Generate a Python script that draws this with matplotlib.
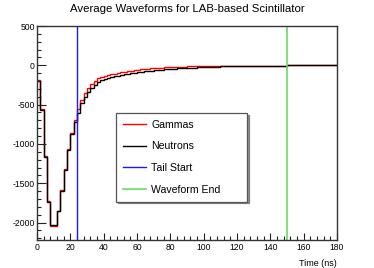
import numpy as np
import matplotlib
matplotlib.use("Agg")
import matplotlib.pyplot as plt
from matplotlib.ticker import MultipleLocator
from matplotlib.lines import Line2D

# ---- data ----
bin_width_ns = 2
time_max_ns = 180
tail_start_ns = 24
waveform_end_ns = 150

neutrons = [
    -196, -569, -1170, -1745, -2035, -2035, -1850, -1595, -1332, -1078,
    -880, -725, -611, -484, -399, -335, -285, -245, -215, -192,
    -175, -162, -150, -140, -130, -121, -113, -106, -100, -94,
    -88, -82, -77, -72, -67, -63, -59, -55, -51, -48,
    -45, -42, -39, -36, -34, -32, -30, -28, -26, -24,
    -22, -20, -18, -17, -16, -15, -14, -14, -13, -13,
    -13, -12, -12, -12, -12, -12, -12, -12, -12, -11,
    -11, -11, -11, -11, -11,
    0, 0, 0, 0, 0, 0, 0, 0, 0, 0, 0, 0, 0, 0, 0,
]
gammas = [
    -190, -560, -1155, -1730, -2040, -2040, -1850, -1590, -1325, -1070,
    -865, -690, -552, -441, -356, -293, -240, -195, -165, -145,
    -130, -120, -112, -105, -98, -91, -84, -77, -70, -64,
    -58, -53, -48, -44, -40, -36, -33, -30, -27, -25,
    -23, -21, -19, -17, -16, -15, -14, -13, -12, -12,
    -12, -12, -12, -12, -12, -12, -12, -12, -12, -12,
    -12, -12, -12, -11, -11, -11, -11, -11, -11, -11,
    -11, -11, -11, -11, -11,
    0, 0, 0, 0, 0, 0, 0, 0, 0, 0, 0, 0, 0, 0, 0,
]
edges = np.arange(0, time_max_ns + bin_width_ns, bin_width_ns)

title = "Average Waveforms for LAB-based Scintillator"
labels = ["Gammas", "Neutrons", "Tail Start", "Waveform End"]

# ---- figure ----
plt.rcParams['font.family'] = ['Liberation Sans', 'DejaVu Sans']
plt.rcParams['axes.unicode_minus'] = False
W, H = 374, 268
fig = plt.figure(figsize=(W / 100, H / 100), dpi=100)
ax = fig.add_axes([37 / W, 28 / H, 300 / W, 214 / H])

ax.stairs(gammas, edges, baseline=None, color='#ff0000', lw=1.0)
ax.stairs(neutrons, edges, baseline=None, color='black', lw=1.0)
ax.axvline(tail_start_ns, color='#1a1aff', lw=1.0)
ax.axvline(waveform_end_ns, color='#66dd66', lw=1.2)

ax.set_xlim(0, time_max_ns)
ax.set_ylim(-2222, 500)

ax.xaxis.set_major_locator(MultipleLocator(20))
ax.xaxis.set_minor_locator(MultipleLocator(4))
ax.yaxis.set_major_locator(MultipleLocator(500))
ax.yaxis.set_minor_locator(MultipleLocator(100))
ax.tick_params(which='both', direction='in', top=False, right=False,
               width=0.8, color='#222222', labelsize=6.2)
ax.tick_params(axis='x', which='major', length=4.8, pad=2.2)
ax.tick_params(axis='x', which='minor', length=2.6)
ax.tick_params(axis='y', which='major', length=6.4, pad=1.5)
ax.tick_params(axis='y', which='minor', length=3.2)
for s in ax.spines.values():
    s.set_color('#333333')
    s.set_linewidth(1.0)

ax.set_xlabel("Time (ns)", fontsize=6.5, ha='right', va='center')
ax.xaxis.set_label_coords(1.0, -(263 - 240) / 214)

fig.text(0.5, 1 - 9 / H, title, ha='center', va='center', fontsize=8.2)

handles = [Line2D([], [], color='#ff0000', lw=1.0),
           Line2D([], [], color='black', lw=1.0),
           Line2D([], [], color='#1a1aff', lw=1.0),
           Line2D([], [], color='#66dd66', lw=1.2)]
x0 = (116 - 37) / 300
x1 = (247 - 37) / 300
y1 = (240 - 113) / 214
y0 = (240 - 198) / 214
leg = ax.legend(handles, labels, loc='upper left', mode='expand',
                bbox_to_anchor=(x0, y0, x1 - x0, y1 - y0),
                borderaxespad=0, fontsize=7.6, frameon=True, fancybox=False,
                edgecolor='#555555', framealpha=1, labelspacing=1.1,
                handlelength=2.2, handletextpad=0.5, borderpad=0.65,
                shadow={'ox': 1.2, 'oy': -1.2, 'alpha': 0.6})
leg.get_frame().set_linewidth(0.9)
fig.savefig("out.png", dpi=100)
